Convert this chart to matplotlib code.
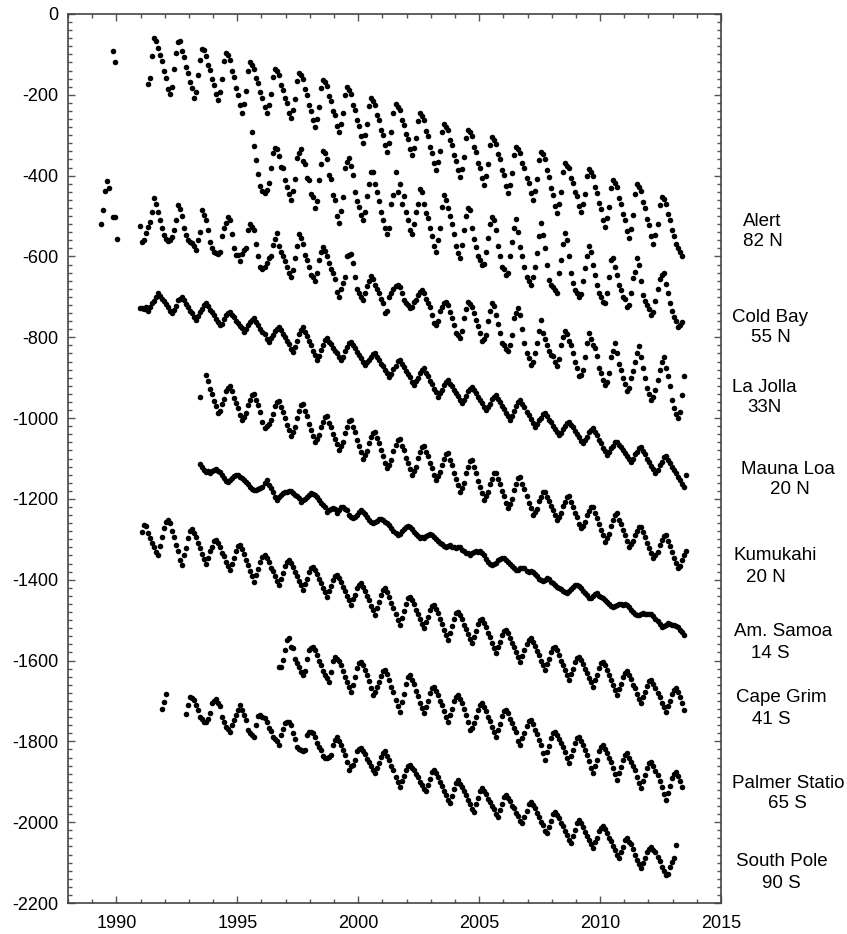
import matplotlib
matplotlib.use("Agg")
import matplotlib.pyplot as plt
from matplotlib.ticker import MultipleLocator

plt.rcParams['font.family'] = ['Liberation Sans', 'DejaVu Sans']
plt.rcParams['axes.unicode_minus'] = False

N = None
# monthly values (Jan..Dec) per year
ALERT = {
    1989: [N, N, N, N, N, N, N, N, N, N, -91, -118],
    1991: [N, N, N, -172, -158, -104, -59, -66, -84, -101, -117, -142],
    1992: [-158, -185, -198, -181, -137, -96, -70, -68, -91, -106, -130, -146],
    1993: [-169, -184, -207, -192, -150, -113, -87, -90, -103, -126, -139, -161],
    1994: [-175, -199, -213, -193, -162, -116, -96, -101, -115, -141, -156, -183],
    1995: [-200, -226, -244, -222, -190, -142, -120, -127, -136, -159, -171, -194],
    1996: [-207, -230, -245, -226, -199, -156, -137, -140, -152, -175, -187, -209],
    1997: [-221, -244, -258, -238, -210, -165, -145, -151, -162, -186, -200, -225],
    1998: [-239, -263, -279, -259, -230, -183, -163, -169, -179, -203, -215, -239],
    1999: [-251, -276, -291, -272, -245, -200, -181, -188, -199, -224, -238, -263],
    2000: [-277, -303, -320, -300, -273, -228, -209, -215, -225, -250, -263, -287],
    2001: [-300, -325, -341, -320, -291, -244, -223, -229, -238, -262, -274, -298],
    2002: [-310, -334, -349, -331, -306, -264, -246, -252, -263, -289, -303, -329],
    2003: [-343, -369, -386, -366, -338, -292, -272, -279, -288, -312, -325, -350],
    2004: [-363, -387, -403, -383, -354, -307, -287, -293, -303, -329, -342, -368],
    2005: [-381, -406, -423, -402, -372, -325, -304, -311, -321, -346, -360, -386],
    2006: [-399, -425, -442, -422, -394, -348, -328, -334, -344, -369, -382, -407],
    2007: [-419, -444, -460, -439, -409, -362, -341, -347, -360, -387, -403, -431],
    2008: [-447, -474, -493, -471, -440, -390, -368, -375, -382, -406, -417, -440],
    2009: [-451, -475, -489, -470, -445, -402, -384, -390, -401, -428, -442, -468],
    2010: [-482, -509, -526, -506, -477, -431, -411, -417, -429, -455, -470, -496],
    2011: [-511, -537, -555, -532, -498, -445, -421, -428, -439, -466, -481, -508],
    2012: [-523, -550, -568, -548, -519, -472, -452, -459, -469, -495, -509, -535],
    2013: [-549, -568, -578, -590, -600],
}
COLD_BAY = {
    1995: [N, N, N, N, N, N, N, -293, -326, -362, -395, -426],
    1996: [-438, -443, -436, -418, -380, -345, -331, -335, -352, -378, -382, -410],
    1997: [-428, -445, -460, -438, -408, -356, -344, -335, -363, -370, -405, -412],
    1998: [-445, -452, -480, -462, -410, -372, -338, -345, -358, -398, -408, -449],
    1999: [-460, -500, -518, -488, -452, -381, -366, -357, -375, -398, -440, -463],
    2000: [-478, -498, -510, -490, -450, -421, -392, -390, -421, -440, -464, -490],
    2001: [-510, -530, -544, -530, -470, -448, -390, -440, -420, -469, -450, -490],
    2002: [-510, -535, -545, -520, -490, -469, -433, -440, -470, -493, -505, -530],
    2003: [-550, -575, -588, -560, -530, -477, -448, -460, -480, -500, -520, -545],
    2004: [-575, -592, -605, -572, -535, -500, -481, -485, -530, -556, -576, -600],
    2005: [-610, -621, -618, -590, -555, -520, -502, -510, -535, -575, -600, -625],
    2006: [-632, -646, -640, -600, -563, -530, -508, -540, -577, -600, -625, -650],
    2007: [-660, -671, -650, -625, -592, -550, -517, -547, -580, -620, -658, -670],
    2008: [-675, -682, -691, -640, -609, -570, -543, -560, -600, -640, -665, -683],
    2009: [-690, -700, -693, -660, -629, -600, -575, -588, -620, -646, -670, -691],
    2010: [-700, -712, -715, -690, -650, -609, -605, -625, -645, -670, -683, -700],
    2011: [-705, -725, -720, -690, -654, -638, -605, -620, -660, -695, -710, -720],
    2012: [-730, -745, -738, -710, -680, -655, -646, -640, -667, -690, -715, -735],
    2013: [-750, -760, -775, -770, -761],
}
LA_JOLLA = {
    1989: [N, N, N, N, -520, -485, -438, -413, -431, N, -502, -502],
    1990: [-556, N, N, N, N, N, N, N, N, N, N, -525],
    1991: [-563, -560, -542, -528, -515, -490, -456, -470, -489, -510, -530, -547],
    1992: [-556, -562, -560, -553, -535, -510, -473, -482, -500, -530, -548, -560],
    1993: [-563, -567, -575, -584, -560, -539, -485, -497, -510, -535, -563, -580],
    1994: [-588, -591, -594, -590, -549, -530, -518, -503, -509, -545, -580, -597],
    1995: [-597, -612, -593, -585, -580, -535, -519, -527, -535, -569, -598, -625],
    1996: [-631, -625, -617, -605, -600, -572, -556, -542, -575, -590, -598, -612],
    1997: [-625, -641, -650, -634, -605, -575, -544, -555, -570, -597, -610, -625],
    1998: [-645, -652, -660, -640, -609, -590, -577, -586, -600, -617, -630, -642],
    1999: [-655, -688, -700, -680, -665, -650, -600, -597, -595, -617, -650, -680],
    2000: [-690, -700, -707, -690, -673, -660, -648, -655, -670, -680, -691, -705],
    2001: [-716, -741, -735, -700, -691, -680, -672, -670, -676, -690, -707, -715],
    2002: [-720, -728, -725, -712, -707, -695, -688, -683, -690, -705, -715, -724],
    2003: [-745, -765, -769, -760, -736, -725, -715, -712, -720, -738, -753, -770],
    2004: [-790, -795, -802, -785, -753, -730, -712, -718, -724, -740, -758, -773],
    2005: [-790, -810, -804, -794, -760, -736, -716, -722, -745, -768, -790, -814],
    2006: [-820, -828, -835, -820, -794, -753, -740, -728, -745, -780, -815, -838],
    2007: [-851, -868, -860, -839, -814, -785, -757, -790, -805, -820, -835, -843],
    2008: [-847, -860, -872, -855, -820, -800, -785, -792, -808, -818, -839, -860],
    2009: [-876, -897, -893, -880, -850, -815, -790, -805, -818, -827, -847, -875],
    2010: [-888, -905, -917, -910, -888, -850, -835, -814, -840, -865, -880, -902],
    2011: [-915, -933, -925, -900, -884, -860, -840, -822, -850, -875, -900, -925],
    2012: [-940, -954, -948, -930, -905, -880, -862, -850, -875, -897, -920, -955],
    2013: [-975, -990, -1000, -985, -943, -897],
}
MAUNA_LOA = {
    1990: [N, N, N, N, N, N, N, N, N, N, N, -728],
    1991: [-727, -730, -724, -735, -726, -716, -711, -700, -691, -697, -706, -711],
    1992: [-718, -724, -736, -741, -733, -722, -708, -705, -701, -708, -718, -724],
    1993: [-735, -740, -750, -757, -748, -738, -729, -720, -716, -722, -733, -738],
    1994: [-746, -755, -761, -770, -766, -754, -746, -741, -737, -745, -750, -759],
    1995: [-764, -773, -778, -786, -780, -770, -762, -757, -753, -762, -769, -779],
    1996: [-787, -793, -804, -811, -803, -795, -784, -779, -774, -782, -793, -800],
    1997: [-810, -817, -828, -836, -823, -809, -792, -781, -774, -787, -796, -810],
    1998: [-820, -833, -843, -856, -846, -831, -820, -807, -803, -812, -817, -827],
    1999: [-834, -840, -850, -856, -848, -835, -825, -815, -811, -820, -827, -837],
    2000: [-845, -851, -862, -869, -862, -857, -848, -842, -838, -849, -856, -866],
    2001: [-872, -882, -889, -898, -891, -878, -870, -859, -856, -866, -873, -884],
    2002: [-892, -899, -910, -918, -909, -901, -888, -882, -877, -888, -896, -908],
    2003: [-916, -928, -936, -947, -938, -930, -917, -911, -906, -915, -921, -931],
    2004: [-939, -946, -956, -963, -954, -946, -933, -927, -922, -931, -938, -948],
    2005: [-956, -963, -973, -980, -972, -964, -953, -948, -943, -953, -960, -971],
    2006: [-978, -988, -995, -1005, -996, -982, -971, -959, -955, -965, -973, -984],
    2007: [-992, -1003, -1011, -1021, -1015, -1005, -999, -990, -988, -995, -1004, -1010],
    2008: [-1020, -1026, -1035, -1042, -1036, -1026, -1020, -1011, -1009, -1018, -1023, -1033],
    2009: [-1040, -1046, -1056, -1062, -1054, -1046, -1035, -1030, -1025, -1035, -1043, -1054],
    2010: [-1062, -1073, -1081, -1091, -1085, -1075, -1069, -1060, -1058, -1066, -1071, -1080],
    2011: [-1086, -1095, -1100, -1108, -1102, -1090, -1083, -1074, -1071, -1081, -1089, -1100],
    2012: [-1108, -1119, -1127, -1137, -1129, -1117, -1108, -1097, -1094, -1103, -1110, -1120],
    2013: [-1128, -1137, -1145, -1153, -1162, -1170, -1141],
}
KUMUKAHI = {
    1993: [N, N, N, N, N, -949, N, N, -893, -907, -927, -940],
    1994: [-958, -970, -988, -983, -966, -952, -932, -925, -921, -933, -951, -962],
    1995: [-976, -993, -1005, -997, -987, -968, -955, -943, -941, -956, -967, -985],
    1996: [-1010, -1025, -1020, -1015, -1004, -990, -970, -961, -957, -972, -984, -1001],
    1997: [-1016, -1029, -1044, -1034, -1021, -999, -982, -968, -965, -983, -995, -1014],
    1998: [-1029, -1045, -1060, -1052, -1042, -1023, -1010, -998, -996, -1011, -1022, -1040],
    1999: [-1052, -1064, -1079, -1070, -1058, -1036, -1021, -1008, -1005, -1022, -1035, -1054],
    2000: [-1069, -1083, -1100, -1091, -1081, -1062, -1048, -1036, -1034, -1050, -1062, -1080],
    2001: [-1093, -1110, -1124, -1115, -1103, -1082, -1067, -1055, -1052, -1068, -1080, -1098],
    2002: [-1112, -1125, -1141, -1132, -1120, -1099, -1084, -1071, -1068, -1083, -1095, -1112],
    2003: [-1124, -1140, -1153, -1144, -1134, -1115, -1101, -1089, -1087, -1104, -1117, -1136],
    2004: [-1151, -1165, -1182, -1172, -1160, -1137, -1121, -1107, -1104, -1122, -1136, -1155],
    2005: [-1171, -1186, -1203, -1194, -1184, -1164, -1150, -1137, -1135, -1151, -1163, -1180],
    2006: [-1193, -1209, -1223, -1213, -1201, -1178, -1162, -1148, -1145, -1162, -1176, -1194],
    2007: [-1209, -1223, -1240, -1232, -1224, -1206, -1195, -1184, -1182, -1195, -1204, -1218],
    2008: [-1228, -1241, -1252, -1244, -1236, -1218, -1207, -1196, -1194, -1208, -1219, -1235],
    2009: [-1246, -1261, -1273, -1266, -1258, -1241, -1231, -1221, -1219, -1234, -1247, -1263],
    2010: [-1278, -1290, -1306, -1297, -1286, -1266, -1251, -1239, -1236, -1251, -1262, -1278],
    2011: [-1290, -1305, -1318, -1311, -1304, -1289, -1280, -1270, -1269, -1283, -1294, -1309],
    2012: [-1322, -1333, -1347, -1339, -1331, -1313, -1302, -1291, -1289, -1304, -1316, -1332],
    2013: [-1345, -1358, -1372, -1365, -1350, -1338, -1328],
}
AM_SAMOA = {
    1993: [N, N, N, N, N, -1114, -1122, -1128, -1133, -1131, -1137, -1130],
    1994: [-1128, -1127, -1130, -1133, -1140, -1149, -1155, -1157, -1153, -1148, -1143, -1141],
    1995: [-1141, -1145, -1149, -1153, -1157, -1162, -1170, -1175, -1178, -1178, -1176, -1174],
    1996: [-1170, -1160, -1153, -1165, -1172, -1182, -1195, -1203, -1196, -1190, -1186, -1184],
    1997: [-1182, -1180, -1180, -1186, -1190, -1194, -1198, -1207, -1203, -1200, -1195, -1190],
    1998: [-1186, -1188, -1190, -1196, -1203, -1210, -1215, -1219, -1232, -1227, -1224, -1223],
    1999: [-1225, -1236, -1228, -1219, -1219, -1224, -1227, -1240, -1244, -1248, -1244, -1240],
    2000: [-1233, -1227, -1232, -1238, -1245, -1252, -1258, -1260, -1257, -1255, -1250, -1250],
    2001: [-1252, -1256, -1260, -1265, -1272, -1280, -1285, -1289, -1287, -1280, -1274, -1270],
    2002: [-1268, -1270, -1275, -1282, -1288, -1293, -1297, -1295, -1297, -1292, -1290, -1286],
    2003: [-1290, -1295, -1298, -1303, -1308, -1312, -1316, -1318, -1316, -1315, -1320, -1318],
    2004: [-1322, -1318, -1320, -1326, -1330, -1334, -1335, -1338, -1335, -1332, -1330, -1331],
    2005: [-1330, -1335, -1340, -1348, -1355, -1360, -1364, -1362, -1358, -1352, -1348, -1347],
    2006: [-1347, -1350, -1355, -1360, -1366, -1372, -1376, -1375, -1372, -1370, -1372, -1378],
    2007: [-1380, -1378, -1382, -1386, -1392, -1398, -1401, -1403, -1400, -1396, -1398, -1405],
    2008: [-1408, -1412, -1417, -1420, -1424, -1428, -1430, -1432, -1428, -1422, -1418, -1414],
    2009: [-1413, -1415, -1420, -1428, -1434, -1438, -1446, -1444, -1440, -1436, -1434, -1440],
    2010: [-1442, -1446, -1450, -1455, -1460, -1464, -1467, -1466, -1462, -1460, -1460, -1462],
    2011: [-1460, -1463, -1468, -1474, -1480, -1485, -1487, -1488, -1484, -1482, -1484, -1486],
    2012: [-1484, -1486, -1490, -1496, -1503, -1510, -1516, -1515, -1512, -1508, -1510, -1512],
    2013: [-1512, -1514, -1518, -1524, -1530, -1537],
}
CAPE_GRIM = {
    1991: [-1283, -1264, -1266, -1285, -1297, -1310, -1318, -1331, -1339, -1317, -1295, -1273],
    1992: [-1257, -1251, -1260, -1280, -1295, -1314, -1329, -1350, -1364, -1340, -1321, -1296],
    1993: [-1280, -1275, -1285, -1295, -1310, -1321, -1336, -1348, -1360, -1347, -1330, -1318],
    1994: [-1305, -1302, -1310, -1320, -1333, -1342, -1355, -1365, -1376, -1360, -1346, -1329],
    1995: [-1317, -1314, -1324, -1336, -1351, -1363, -1379, -1392, -1405, -1388, -1373, -1355],
    1996: [-1343, -1339, -1347, -1357, -1370, -1379, -1392, -1402, -1413, -1397, -1383, -1366],
    1997: [-1356, -1351, -1359, -1369, -1382, -1391, -1404, -1414, -1425, -1410, -1398, -1381],
    1998: [-1371, -1368, -1376, -1386, -1399, -1408, -1421, -1431, -1442, -1428, -1416, -1401],
    1999: [-1391, -1388, -1396, -1406, -1419, -1428, -1441, -1451, -1462, -1448, -1437, -1421],
    2000: [-1412, -1409, -1418, -1428, -1441, -1451, -1465, -1476, -1487, -1470, -1455, -1437],
    2001: [-1425, -1421, -1431, -1443, -1458, -1470, -1486, -1499, -1512, -1494, -1478, -1459],
    2002: [-1446, -1442, -1451, -1461, -1474, -1484, -1498, -1509, -1520, -1505, -1492, -1476],
    2003: [-1465, -1462, -1472, -1483, -1498, -1509, -1524, -1537, -1549, -1531, -1515, -1496],
    2004: [-1483, -1479, -1488, -1498, -1511, -1521, -1535, -1546, -1557, -1541, -1528, -1510],
    2005: [-1499, -1496, -1506, -1517, -1531, -1542, -1557, -1570, -1582, -1567, -1554, -1538],
    2006: [-1528, -1524, -1533, -1543, -1557, -1566, -1580, -1592, -1603, -1588, -1575, -1559],
    2007: [-1548, -1545, -1554, -1564, -1577, -1587, -1601, -1612, -1623, -1608, -1596, -1579],
    2008: [-1569, -1566, -1575, -1586, -1600, -1610, -1624, -1636, -1648, -1633, -1620, -1604],
    2009: [-1593, -1590, -1599, -1608, -1621, -1630, -1644, -1654, -1665, -1649, -1635, -1618],
    2010: [-1606, -1603, -1612, -1623, -1637, -1647, -1661, -1673, -1685, -1670, -1657, -1641],
    2011: [-1630, -1627, -1636, -1646, -1660, -1669, -1683, -1695, -1706, -1691, -1678, -1662],
    2012: [-1651, -1648, -1657, -1667, -1681, -1690, -1704, -1716, -1727, -1712, -1699, -1683],
    2013: [-1673, -1669, -1677, -1690, -1705, -1722],
}
PALMER = {
    1996: [N, N, N, N, N, N, N, N, -1615, -1616, -1598, -1574],
    1997: [-1549, -1545, -1566, -1570, -1595, -1605, -1615, -1628, -1636, -1625, -1595, -1575],
    1998: [-1568, -1566, -1574, -1587, -1600, -1611, -1625, -1636, -1644, -1652, -1628, -1600],
    1999: [-1590, -1595, -1600, -1612, -1625, -1640, -1652, -1665, -1677, -1660, -1641, -1618],
    2000: [-1607, -1603, -1612, -1623, -1637, -1650, -1668, -1685, -1678, -1665, -1652, -1638],
    2001: [-1627, -1623, -1634, -1648, -1665, -1679, -1697, -1712, -1727, -1703, -1682, -1658],
    2002: [-1641, -1636, -1647, -1659, -1675, -1687, -1704, -1718, -1731, -1714, -1699, -1681],
    2003: [-1669, -1665, -1675, -1686, -1700, -1711, -1726, -1739, -1751, -1734, -1719, -1701],
    2004: [-1689, -1685, -1695, -1706, -1721, -1735, -1752, -1772, -1768, -1755, -1740, -1722],
    2005: [-1710, -1706, -1715, -1725, -1740, -1750, -1764, -1776, -1788, -1771, -1756, -1738],
    2006: [-1726, -1722, -1731, -1744, -1755, -1766, -1778, -1798, -1809, -1792, -1779, -1761],
    2007: [-1750, -1747, -1757, -1771, -1783, -1796, -1809, -1830, -1846, -1827, -1812, -1792],
    2008: [-1780, -1776, -1785, -1795, -1804, -1815, -1826, -1842, -1854, -1837, -1822, -1804],
    2009: [-1792, -1788, -1798, -1810, -1821, -1833, -1849, -1865, -1879, -1861, -1845, -1825],
    2010: [-1813, -1809, -1819, -1830, -1841, -1852, -1867, -1882, -1896, -1879, -1864, -1846],
    2011: [-1834, -1830, -1840, -1851, -1861, -1872, -1887, -1902, -1916, -1899, -1884, -1865],
    2012: [-1854, -1850, -1861, -1873, -1884, -1897, -1913, -1930, -1945, -1927, -1911, -1891],
    2013: [-1880, -1875, -1885, -1898, -1912],
}
SOUTH_POLE = {
    1991: [N, N, N, N, N, N, N, N, N, N, -1721, -1703],
    1992: [-1683, N, N, N, N, N, N, N, N, N, -1733, -1711],
    1993: [-1691, -1693, -1697, -1710, -1723, -1739, -1745, -1751, -1751, -1745, -1729, -1706],
    1994: [-1700, -1696, -1705, -1712, -1739, -1752, -1764, -1770, -1776, -1760, -1747, -1735],
    1995: [-1723, -1710, -1723, -1735, -1747, -1772, -1780, -1784, -1788, -1760, -1737, -1735],
    1996: [-1739, -1742, -1751, -1768, -1775, -1788, -1795, -1800, -1809, -1784, -1770, -1755],
    1997: [-1751, -1751, -1760, -1780, -1795, -1813, -1818, -1821, -1823, -1821, -1784, -1776],
    1998: [-1776, -1780, -1788, -1805, -1813, -1821, -1835, -1842, -1840, -1838, -1834, -1810],
    1999: [-1797, -1788, -1800, -1809, -1822, -1834, -1850, -1871, -1862, -1858, -1846, -1825],
    2000: [-1818, -1817, -1824, -1832, -1843, -1850, -1861, -1870, -1879, -1865, -1853, -1838],
    2001: [-1828, -1825, -1835, -1846, -1861, -1872, -1887, -1900, -1912, -1898, -1886, -1871],
    2002: [-1862, -1858, -1866, -1871, -1882, -1889, -1900, -1907, -1918, -1924, -1907, -1893],
    2003: [-1876, -1871, -1879, -1889, -1900, -1911, -1922, -1933, -1945, -1953, -1936, -1918],
    2004: [-1902, -1896, -1905, -1913, -1924, -1932, -1945, -1954, -1967, -1974, -1956, -1940],
    2005: [-1922, -1916, -1924, -1930, -1942, -1949, -1960, -1968, -1980, -1986, -1969, -1955],
    2006: [-1938, -1933, -1941, -1947, -1959, -1966, -1977, -1985, -1997, -2003, -1986, -1972],
    2007: [-1955, -1949, -1958, -1965, -1978, -1986, -1999, -2008, -2021, -2028, -2011, -1997],
    2008: [-1980, -1974, -1983, -1990, -2002, -2010, -2023, -2032, -2045, -2052, -2034, -2019],
    2009: [-2001, -1995, -2003, -2012, -2024, -2033, -2045, -2055, -2065, -2050, -2038, -2022],
    2010: [-2014, -2009, -2018, -2026, -2038, -2046, -2060, -2069, -2082, -2089, -2073, -2061],
    2011: [-2045, -2040, -2048, -2055, -2067, -2080, -2093, -2103, -2114, -2100, -2089, -2073],
    2012: [-2066, -2061, -2069, -2075, -2087, -2096, -2111, -2121, -2131, -2127, -2110, -2098],
    2013: [-2089, -2056],
}

STATIONS = [ALERT, COLD_BAY, LA_JOLLA, MAUNA_LOA, KUMUKAHI,
            AM_SAMOA, CAPE_GRIM, PALMER, SOUTH_POLE]

# station labels: (text, left x px, centre y px)
LABELS = [
    ("Alert", 743, 222), ("82 N", 743, 242),
    ("Cold Bay", 732, 317), ("55 N", 751, 337),
    ("La Jolla", 732, 388), ("33N", 747, 408),
    ("Mauna Loa", 741, 469), ("20 N", 770, 490),
    ("Kumukahi", 733, 556), ("20 N", 746, 577),
    ("Am. Samoa", 734, 632), ("14 S", 751, 653),
    ("Cape Grim", 736, 698), ("41 S", 752, 719),
    ("Palmer Statio", 732, 783), ("65 S", 768, 803),
    ("South Pole", 736, 862), ("90 S", 762, 883),
]

W, H = 847, 934
fig = plt.figure(figsize=(W / 100, H / 100), dpi=100)
ax = fig.add_axes([68 / W, 1 - 903 / H, (721 - 68) / W, (903 - 14) / H])

for st in STATIONS:
    ts, vs = [], []
    for year, vals in st.items():
        for m, v in enumerate(vals):
            if v is not None:
                ts.append(year + (m + 0.5) / 12.0)
                vs.append(v)
    ax.plot(ts, vs, 'o', color='black', ms=4.0, mew=0, linestyle='none')

ax.set_xlim(1988, 2015)
ax.set_ylim(-2200, 0)
ax.xaxis.set_major_locator(MultipleLocator(5))
ax.xaxis.set_minor_locator(MultipleLocator(1))
ax.yaxis.set_major_locator(MultipleLocator(200))
ax.yaxis.set_minor_locator(MultipleLocator(20))
ax.tick_params(which='both', direction='in', top=True, right=True,
               color='#555555', width=1, labelsize=13)
ax.tick_params(which='major', length=5)
ax.tick_params(which='minor', length=3)
ax.tick_params(axis='x', which='major', pad=9)
ax.tick_params(axis='y', which='major', pad=7)
for sp in ax.spines.values():
    sp.set_color('#444444')
    sp.set_linewidth(1.2)

for text, x, y in LABELS:
    fig.text(x / W, 1 - y / H, text, ha='left', va='center', fontsize=13.5)

fig.savefig("out.png", dpi=100)
